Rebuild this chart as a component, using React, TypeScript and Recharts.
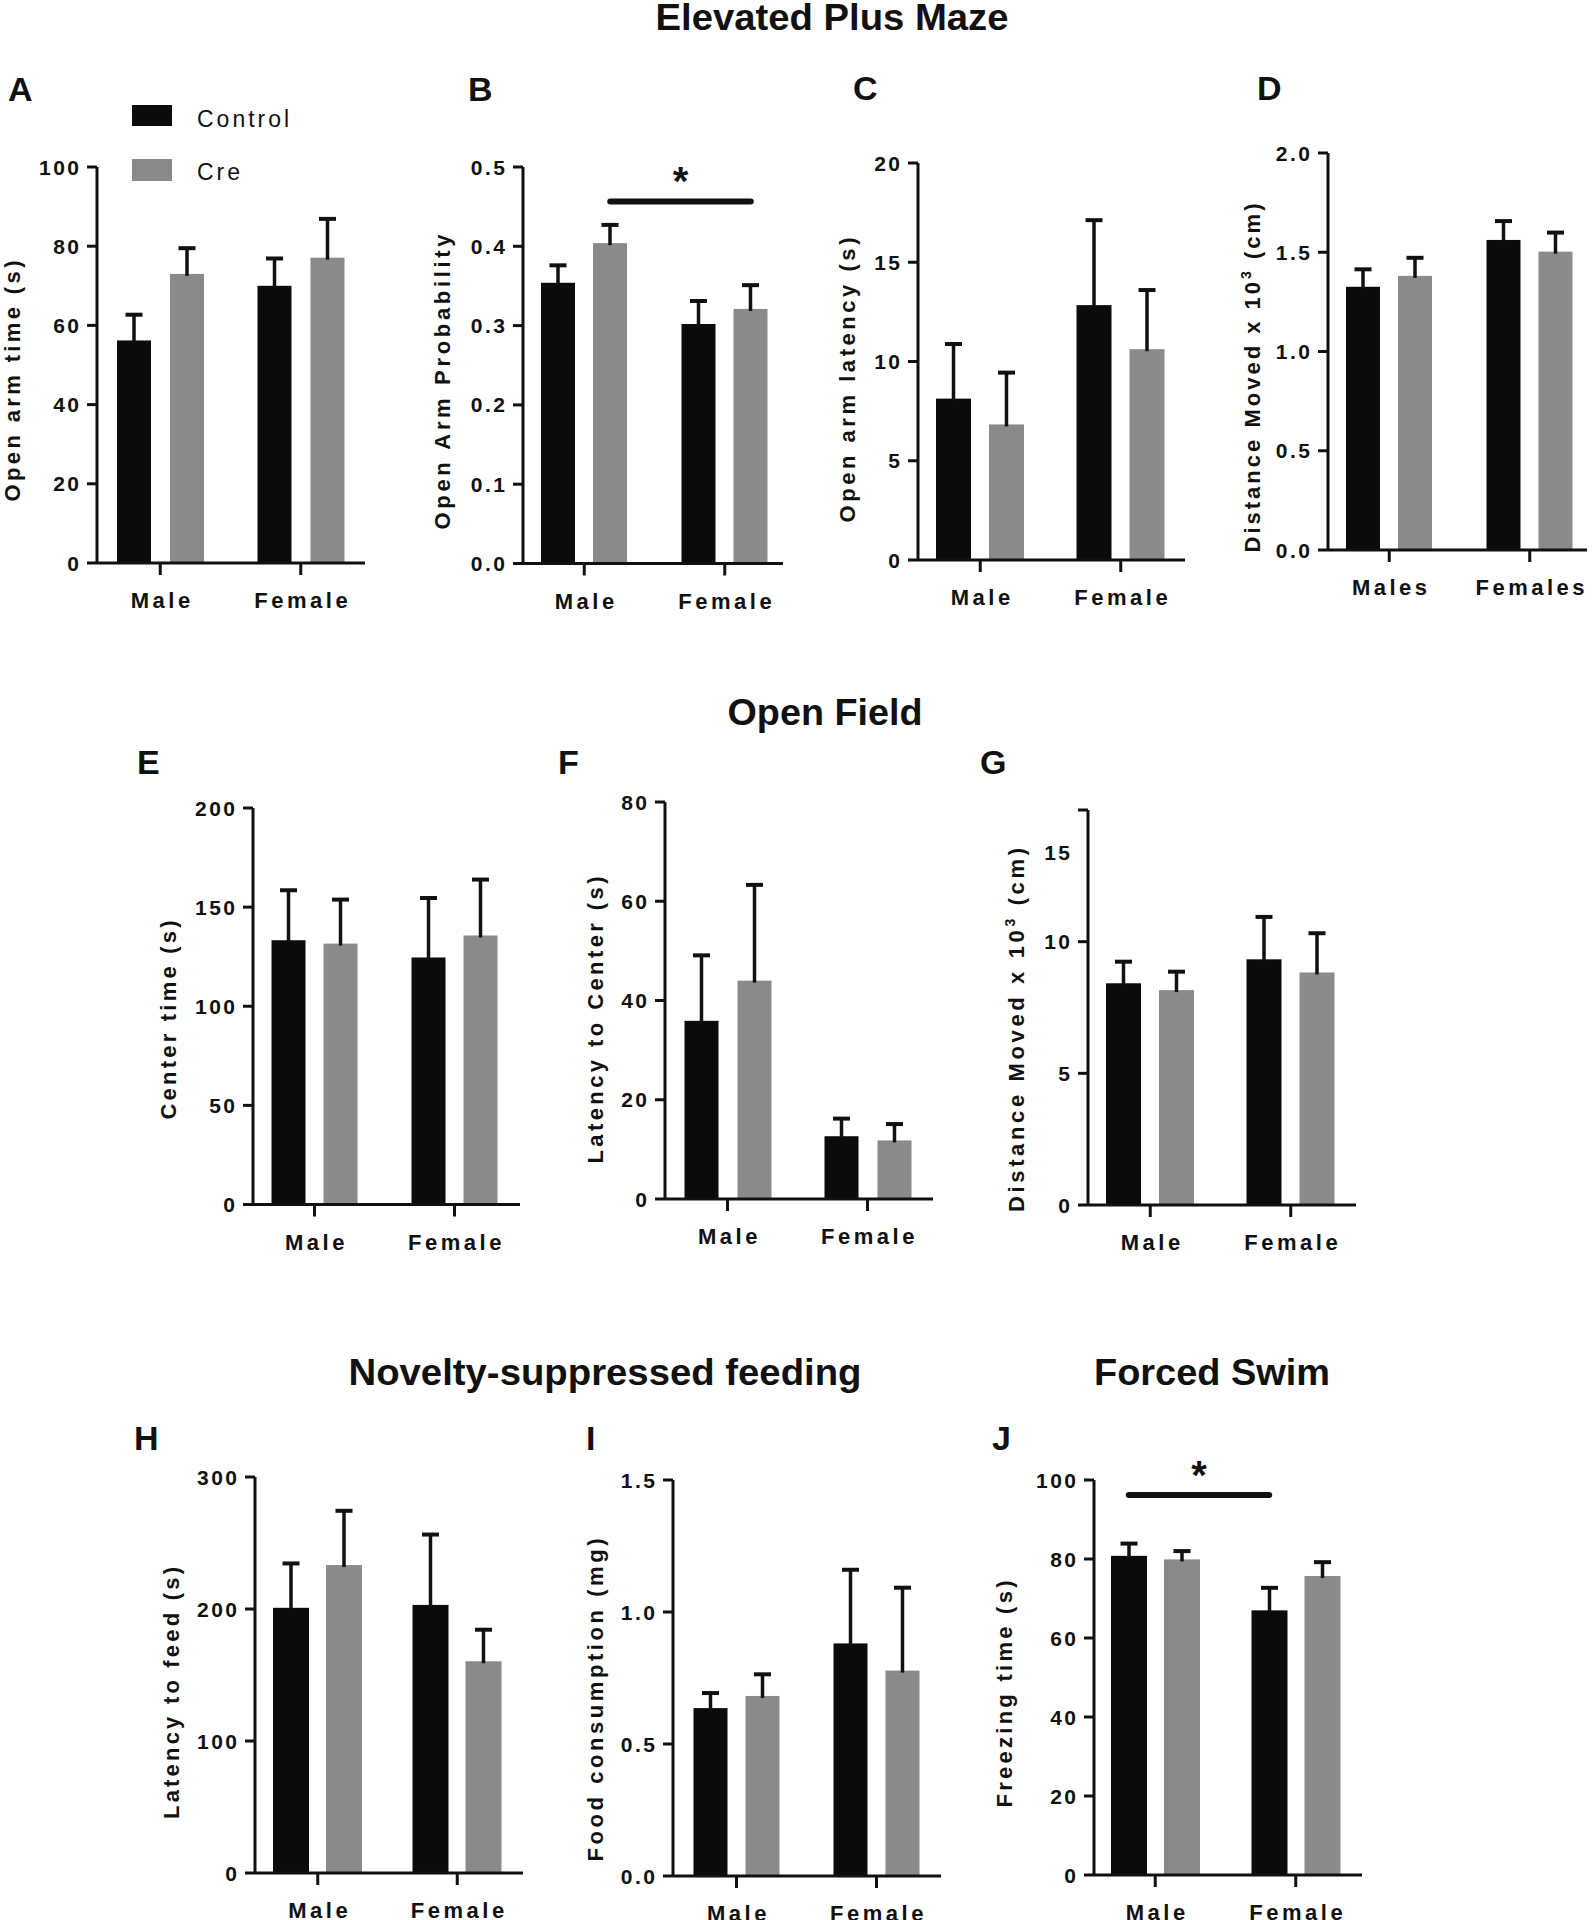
import React from "react";
import { BarChart, Bar, XAxis, YAxis, ReferenceLine } from "recharts";

const FONT = '"Liberation Sans", Arial, Helvetica, sans-serif';
const INK = "#111111";
const BLACK = "#0b0b0b";
const GREY = "#8a8a8a";

// categories
const sexes = ["Male", "Female"];
const sexesPlural = ["Males", "Females"];

// A - open arm time (s)
const openArmTimeControl = [56.2, 70.0];
const openArmTimeControlSem = [6.5, 6.9];
const openArmTimeCre = [73.0, 77.1];
const openArmTimeCreSem = [6.5, 9.8];

// B - open arm probability
const openArmProbControl = [0.354, 0.302];
const openArmProbControlSem = [0.022, 0.029];
const openArmProbCre = [0.404, 0.321];
const openArmProbCreSem = [0.023, 0.03];

// C - open arm latency (s)
const openArmLatControl = [8.13, 12.84];
const openArmLatControlSem = [2.75, 4.28];
const openArmLatCre = [6.83, 10.62];
const openArmLatCreSem = [2.61, 2.98];

// D - EPM distance moved x10^3 (cm)
const epmDistControl = [1.326, 1.562];
const epmDistControlSem = [0.088, 0.095];
const epmDistCre = [1.381, 1.503];
const epmDistCreSem = [0.091, 0.096];

// E - center time (s)
const centerTimeControl = [133.3, 124.6];
const centerTimeControlSem = [25.2, 30.0];
const centerTimeCre = [131.6, 135.7];
const centerTimeCreSem = [22.2, 28.2];

// F - latency to center (s)
const centerLatControl = [35.9, 12.65];
const centerLatControlSem = [13.2, 3.55];
const centerLatCre = [44.0, 11.8];
const centerLatCreSem = [19.3, 3.3];

// G - open field distance moved x10^3 (cm)
const ofDistControl = [8.42, 9.33];
const ofDistControlSem = [0.82, 1.61];
const ofDistCre = [8.16, 8.83];
const ofDistCreSem = [0.7, 1.49];

// H - latency to feed (s)
const feedLatControl = [200.9, 203.1];
const feedLatControlSem = [33.6, 53.3];
const feedLatCre = [233.3, 160.4];
const feedLatCreSem = [41.1, 23.9];

// I - food consumption (mg)
const foodControl = [0.636, 0.881];
const foodControlSem = [0.057, 0.279];
const foodCre = [0.682, 0.778];
const foodCreSem = [0.082, 0.314];

// J - freezing time (s)
const freezeControl = [80.8, 67.0];
const freezeControlSem = [3.1, 5.7];
const freezeCre = [79.9, 75.7];
const freezeCreSem = [2.1, 3.5];

// tick labels
const ticks100 = [0, 20, 40, 60, 80, 100];
const ticksProb = [0, 0.1, 0.2, 0.3, 0.4, 0.5];
const ticks20 = [0, 5, 10, 15, 20];
const ticks2 = [0, 0.5, 1, 1.5, 2];
const ticks200 = [0, 50, 100, 150, 200];
const ticks80 = [0, 20, 40, 60, 80];
const ticks15 = [0, 5, 10, 15];
const ticks300 = [0, 100, 200, 300];
const ticks15d = [0, 0.5, 1, 1.5];

type PanelCfg = {
  id: string;
  cats: string[];
  ctrl: number[];
  ctrlSem: number[];
  cre: number[];
  creSem: number[];
  ticks: number[];
  decimals: number;
  axisX: number;
  yTop: number;
  yBot: number;
  xEnd: number;
  padL: number;
  padR: number;
  barSize: number;
  barGap: number;
  sig?: { y: number; shift: number };
  tickShift?: Record<number, number>;
};

const panels: PanelCfg[] = [
  { id: "A", cats: sexes, ctrl: openArmTimeControl, ctrlSem: openArmTimeControlSem, cre: openArmTimeCre, creSem: openArmTimeCreSem, ticks: ticks100, decimals: 0, axisX: 97, yTop: 167, yBot: 563, xEnd: 365, padL: -7, padR: -6, barSize: 34, barGap: 19 },
  { id: "B", cats: sexes, ctrl: openArmProbControl, ctrlSem: openArmProbControlSem, cre: openArmProbCre, creSem: openArmProbCreSem, ticks: ticksProb, decimals: 1, axisX: 523, yTop: 166.5, yBot: 563, xEnd: 783, padL: -9, padR: -12, barSize: 34, barGap: 18, sig: { y: 0.4565, shift: 26 } },
  { id: "C", cats: sexes, ctrl: openArmLatControl, ctrlSem: openArmLatControlSem, cre: openArmLatCre, creSem: openArmLatCreSem, ticks: ticks20, decimals: 0, axisX: 918, yTop: 163, yBot: 560, xEnd: 1185, padL: -8, padR: -6, barSize: 35, barGap: 18 },
  { id: "D", cats: sexesPlural, ctrl: epmDistControl, ctrlSem: epmDistControlSem, cre: epmDistCre, creSem: epmDistCreSem, ticks: ticks2, decimals: 1, axisX: 1328, yTop: 153, yBot: 550, xEnd: 1587, padL: -9, padR: -13, barSize: 34, barGap: 18 },
  { id: "E", cats: sexes, ctrl: centerTimeControl, ctrlSem: centerTimeControlSem, cre: centerTimeCre, creSem: centerTimeCreSem, ticks: ticks200, decimals: 0, axisX: 253, yTop: 807.5, yBot: 1204, xEnd: 520, padL: -8.5, padR: -4.5, barSize: 34, barGap: 18 },
  { id: "F", cats: sexes, ctrl: centerLatControl, ctrlSem: centerLatControlSem, cre: centerLatCre, creSem: centerLatCreSem, ticks: ticks80, decimals: 0, axisX: 665, yTop: 802, yBot: 1199, xEnd: 933, padL: -7.5, padR: -4.5, barSize: 34, barGap: 19 },
  { id: "G", cats: sexes, ctrl: ofDistControl, ctrlSem: ofDistControlSem, cre: ofDistCre, creSem: ofDistCreSem, ticks: ticks15, decimals: 0, axisX: 1088, yTop: 810, yBot: 1205, xEnd: 1356, padL: -8, padR: -5, barSize: 35, barGap: 18, tickShift: { 15: 42 } },
  { id: "H", cats: sexes, ctrl: feedLatControl, ctrlSem: feedLatControlSem, cre: feedLatCre, creSem: feedLatCreSem, ticks: ticks300, decimals: 0, axisX: 255, yTop: 1477, yBot: 1873, xEnd: 523, padL: -7, padR: -4, barSize: 36, barGap: 17 },
  { id: "I", cats: sexes, ctrl: foodControl, ctrlSem: foodControlSem, cre: foodCre, creSem: foodCreSem, ticks: ticks15d, decimals: 1, axisX: 673, yTop: 1480, yBot: 1876, xEnd: 941, padL: -6.5, padR: -5.5, barSize: 34, barGap: 18 },
  { id: "J", cats: sexes, ctrl: freezeControl, ctrlSem: freezeControlSem, cre: freezeCre, creSem: freezeCreSem, ticks: ticks100, decimals: 0, axisX: 1094, yTop: 1480, yBot: 1875, xEnd: 1362, padL: -9, padR: -4, barSize: 36, barGap: 17, sig: { y: 96.2, shift: -26.5 } },
];

// y-axis titles: centre and drawn length
const yTitles: { text: string; sup?: boolean; cx: number; cy: number; len: number }[] = [
  { text: "Open arm time (s)", cx: 12, cy: 381, len: 241 },
  { text: "Open Arm Probability", cx: 442, cy: 382, len: 295 },
  { text: "Open arm latency (s)", cx: 847, cy: 380, len: 285 },
  { text: "Distance Moved x 10", sup: true, cx: 1252, cy: 378, len: 349 },
  { text: "Center time (s)", cx: 168, cy: 1020, len: 199 },
  { text: "Latency to Center (s)", cx: 595, cy: 1020, len: 287 },
  { text: "Distance Moved x 10", sup: true, cx: 1016, cy: 1030, len: 364 },
  { text: "Latency to feed (s)", cx: 171, cy: 1693, len: 252 },
  { text: "Food consumption (mg)", cx: 595, cy: 1700, len: 323 },
  { text: "Freezing time (s)", cx: 1004, cy: 1694, len: 227 },
];

const titles = [
  { text: "Elevated Plus Maze", cx: 832, y: 30, len: 353 },
  { text: "Open Field", cx: 825, y: 725, len: 195 },
  { text: "Novelty-suppressed feeding", cx: 605, y: 1385, len: 513 },
  { text: "Forced Swim", cx: 1212, y: 1385, len: 236 },
];

const letters = [
  { t: "A", x: 8, y: 101 }, { t: "B", x: 468, y: 101 }, { t: "C", x: 853, y: 100 }, { t: "D", x: 1257, y: 100 },
  { t: "E", x: 137, y: 774 }, { t: "F", x: 558, y: 774 }, { t: "G", x: 980, y: 774 },
  { t: "H", x: 134, y: 1450 }, { t: "I", x: 586, y: 1450 }, { t: "J", x: 992, y: 1450 },
];

const ML = 90; // y axis width
const MT = 60;
const MR = 12;
const XH = 60;
const AXIS = { stroke: INK, strokeWidth: 3 };

// bar with one-sided (upper) SEM whisker
function barShape(valKey: string, semKey: string) {
  return (p: any) => {
    const v = p.payload[valKey];
    const sem = p.payload[semKey];
    const k = v ? p.height / v : 0;
    const top = p.y - sem * k;
    const cx = p.x + p.width / 2;
    return (
      <g>
        <rect x={p.x} y={p.y} width={p.width} height={p.height} fill={p.fill} />
        <line x1={cx} x2={cx} y1={p.y + 2} y2={top} stroke={INK} strokeWidth={3.5} />
        <line x1={cx - 8.5} x2={cx + 8.5} y1={top} y2={top} stroke={INK} strokeWidth={4} />
      </g>
    );
  };
}

function sigShape(shift: number) {
  return (p: any) => {
    if (p.x1 == null) return <g />;
    const x1 = p.x1 + shift;
    const x2 = p.x2 + shift;
    const y = p.y1;
    return (
      <g>
        <line x1={x1} x2={x2} y1={y} y2={y} stroke={INK} strokeWidth={6} strokeLinecap="round" />
        <text x={(x1 + x2) / 2} y={y - 6} textAnchor="middle" fontSize={40} fontWeight={700} fontFamily={FONT} fill={INK}>
          *
        </text>
      </g>
    );
  };
}

function Panel({ cfg }: { cfg: PanelCfg }) {
  const W = cfg.xEnd - cfg.axisX;
  const H = cfg.yBot - cfg.yTop;
  const data = cfg.cats.map((c, i) => ({
    cat: c,
    control: cfg.ctrl[i],
    controlSem: cfg.ctrlSem[i],
    cre: cfg.cre[i],
    creSem: cfg.creSem[i],
  }));
  const max = cfg.ticks[cfg.ticks.length - 1];

  const yTick = (p: any) => {
    const v = p.payload.value;
    const label = cfg.decimals ? Number(v).toFixed(cfg.decimals) : String(v);
    const dy = cfg.tickShift?.[v] ?? 0;
    return (
      <text x={p.x + 2.5} y={p.y + dy} dy="0.36em" textAnchor="end" fontFamily={FONT} fontWeight={700} fontSize={21} letterSpacing={2.5} fill={INK}>
        {label}
      </text>
    );
  };
  const xTick = (p: any) => (
    <text x={p.x + 2} y={p.y + 33} textAnchor="middle" fontFamily={FONT} fontWeight={700} fontSize={22} letterSpacing={3.5} fill={INK}>
      {p.payload.value}
    </text>
  );

  return (
    <div style={{ position: "absolute", left: cfg.axisX - ML, top: cfg.yTop - MT }}>
      <BarChart
        width={ML + W + MR}
        height={MT + H + XH}
        data={data}
        margin={{ top: MT, right: MR, left: 0, bottom: 0 }}
        barSize={cfg.barSize}
        barGap={cfg.barGap}
      >
        <XAxis
          dataKey="cat"
          height={XH}
          padding={{ left: cfg.padL, right: cfg.padR }}
          axisLine={AXIS}
          tickLine={AXIS}
          tickSize={12}
          tickMargin={0}
          interval={0}
          tick={xTick}
        />
        <YAxis
          type="number"
          width={ML}
          domain={[0, max]}
          ticks={cfg.ticks}
          interval={0}
          axisLine={AXIS}
          tickLine={AXIS}
          tickSize={10}
          tickMargin={8}
          tick={yTick}
        />
        <Bar dataKey="control" name="Control" fill={BLACK} isAnimationActive={false} shape={barShape("control", "controlSem")} />
        <Bar dataKey="cre" name="Cre" fill={GREY} isAnimationActive={false} shape={barShape("cre", "creSem")} />
        {cfg.sig && (
          <ReferenceLine
            segment={[
              { x: cfg.cats[0], y: cfg.sig.y },
              { x: cfg.cats[1], y: cfg.sig.y },
            ]}
            ifOverflow="visible"
            shape={sigShape(cfg.sig.shift)}
          />
        )}
      </BarChart>
    </div>
  );
}

export default function App() {
  const labelStyle = { fontFamily: FONT, fontWeight: 700, fontSize: 22, fill: INK } as const;
  return (
    <div style={{ position: "absolute", left: 0, top: 0, width: 1596, height: 1920, background: "#fff", overflow: "hidden" }}>
      {panels.map((p) => (
        <Panel key={p.id} cfg={p} />
      ))}
      <svg width={1596} height={1920} style={{ position: "absolute", left: 0, top: 0, pointerEvents: "none" }}>
        {titles.map((t) => (
          <text key={t.text} x={t.cx} y={t.y} textAnchor="middle" textLength={t.len} lengthAdjust="spacingAndGlyphs" fontFamily={FONT} fontWeight={700} fontSize={37} fill={INK}>
            {t.text}
          </text>
        ))}
        {letters.map((l) => (
          <text key={l.t} x={l.x} y={l.y} fontFamily={FONT} fontWeight={700} fontSize={34} fill={INK}>
            {l.t}
          </text>
        ))}
        {yTitles.map((t, i) => (
          <text
            key={i}
            transform={`translate(${t.cx},${t.cy}) rotate(-90)`}
            textAnchor="middle"
            dy="0.36em"
            textLength={t.len}
            lengthAdjust="spacing"
            {...labelStyle}
          >
            {t.text}
            {t.sup && (
              <>
                <tspan dy={-9} fontSize={14}>3</tspan>
                <tspan dy={9}>{"  (cm)"}</tspan>
              </>
            )}
          </text>
        ))}
        {/* legend */}
        <rect x={132} y={105} width={40} height={21} fill={BLACK} />
        <text x={197} y={127} fontFamily={FONT} fontSize={23} letterSpacing={3} fill={INK}>Control</text>
        <rect x={132} y={159} width={40} height={22} fill={GREY} />
        <text x={197} y={180} fontFamily={FONT} fontSize={23} letterSpacing={3} fill={INK}>Cre</text>
      </svg>
    </div>
  );
}
